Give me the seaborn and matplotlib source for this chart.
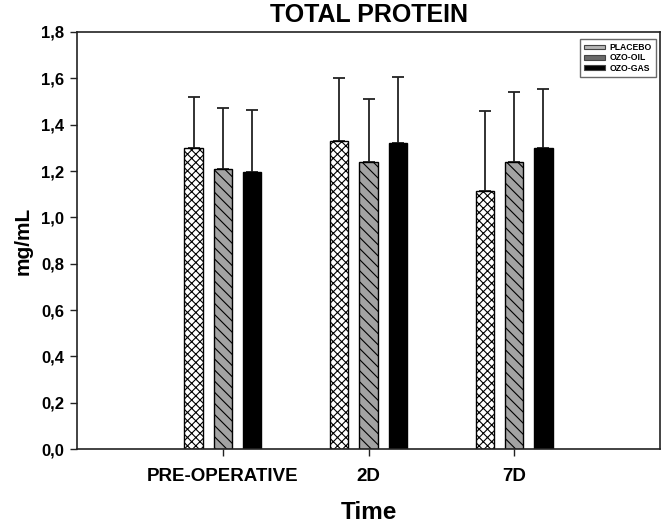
import pandas as pd
import matplotlib
matplotlib.use("Agg")
import matplotlib.pyplot as plt
from matplotlib.patches import Patch
import seaborn as sns

# datos
tiempos = ["PRE-OPERATIVE", "2D", "7D"]
grupos = ["PLACEBO", "OZO-OIL", "OZO-GAS"]
placebo = [1.30, 1.33, 1.115]
ozo_oil = [1.21, 1.24, 1.24]
ozo_gas = [1.195, 1.32, 1.30]
placebo_sd = [0.22, 0.27, 0.345]
ozo_oil_sd = [0.26, 0.27, 0.30]
ozo_gas_sd = [0.27, 0.285, 0.255]

df = pd.DataFrame({
    "Time": tiempos * 3,
    "grupo": [g for g in grupos for _ in tiempos],
    "valor": placebo + ozo_oil + ozo_gas,
    "sd": placebo_sd + ozo_oil_sd + ozo_gas_sd,
})

sns.set_theme(style="white")
plt.rcParams['font.family'] = ['Liberation Sans', 'DejaVu Sans']
plt.rcParams['hatch.linewidth'] = 0.8
for k in ["text.color", "axes.labelcolor", "xtick.color", "ytick.color"]:
    plt.rcParams[k] = "black"

fig = plt.figure(figsize=(6.62, 5.28), dpi=100)
ax = fig.add_axes([0.1163, 0.1496, 0.8807, 0.7898])

colores = {"PLACEBO": "white", "OZO-OIL": "#a3a3a3", "OZO-GAS": "black"}
tramas = {"PLACEBO": "xxxx", "OZO-OIL": "\\\\\\", "OZO-GAS": ""}

sns.barplot(data=df, x="Time", y="valor", hue="grupo", order=tiempos,
            hue_order=grupos, palette=colores, width=0.6, gap=0.375,
            errorbar=None, edgecolor="black", linewidth=1.0, legend=False, ax=ax)

# tramas y barras de error (solo hacia arriba)
for g, cont in zip(grupos, ax.containers):
    sub = df[df["grupo"] == g]
    xs = []
    for p in cont.patches:
        p.set_hatch(tramas[g])
        xs.append(p.get_x() + p.get_width() / 2)
    ax.errorbar(xs, sub["valor"].values,
                yerr=[[0] * len(xs), sub["sd"].values],
                fmt="none", ecolor="#222222", elinewidth=1.3,
                capsize=4.3, capthick=1.3, zorder=0)

ax.set_xlim(-1, 3)
ax.set_ylim(0, 1.8)
ax.set_yticks([0, 0.2, 0.4, 0.6, 0.8, 1.0, 1.2, 1.4, 1.6, 1.8])
ax.set_yticklabels([f"{v:.1f}".replace(".", ",") for v in ax.get_yticks()],
                   fontsize=12, fontweight="bold")
ax.set_xticks(range(len(tiempos)))
ax.set_xticklabels(tiempos, fontsize=13.5, fontweight="bold")
ax.tick_params(axis="both", direction="out", length=5, width=1.0,
               color="#222222", left=True, bottom=True)
ax.tick_params(axis="y", pad=4)
ax.tick_params(axis="x", pad=9)

for s in ax.spines.values():
    s.set_visible(True)
    s.set_color("#222222")
    s.set_linewidth(1.2)

ax.set_title("TOTAL PROTEIN", fontsize=18, fontweight="bold", pad=7)
ax.set_xlabel("Time", fontsize=17.5, fontweight="bold", labelpad=11)
ax.set_ylabel("mg/mL", fontsize=15, fontweight="bold", labelpad=6)

handles = [Patch(facecolor=c, edgecolor="#444444", linewidth=0.8, label=g)
           for g, c in zip(grupos, ["#b5b5b5", "#6a6a6a", "black"])]
leg = ax.legend(handles=handles, loc="upper right", bbox_to_anchor=(0.997, 0.99),
                prop={"size": 6.2, "weight": "bold"}, frameon=True, fancybox=False,
                handlelength=2.4, handleheight=0.45, labelspacing=0.15,
                handletextpad=0.5, borderpad=0.5, borderaxespad=0.3)
leg.get_frame().set_edgecolor("#444444")
leg.get_frame().set_linewidth(1.0)

fig.savefig("out.png", dpi=100)
